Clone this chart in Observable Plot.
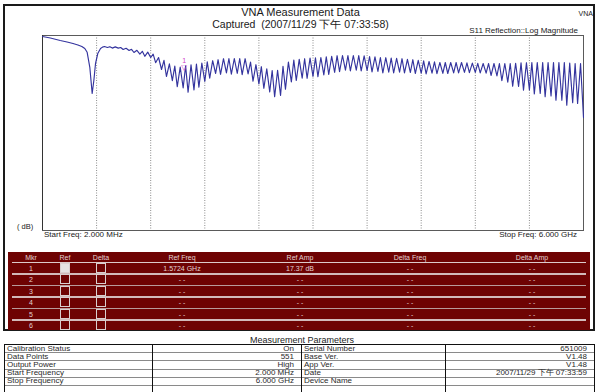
<!DOCTYPE html>
<html><head><meta charset="utf-8">
<script src="https://cdn.jsdelivr.net/npm/d3@7"></script>
<script src="https://cdn.jsdelivr.net/npm/@observablehq/plot@0.6"></script>
<style>
html,body{margin:0;padding:0;background:#fff;}
#page{position:relative;width:601px;height:392px;overflow:hidden;background:#fff;font-family:"Liberation Sans",Arial,sans-serif;color:#1a1a1a;}
.t{position:absolute;white-space:nowrap;}
.c{transform:translateX(-50%);}
.cell{position:absolute;white-space:nowrap;font-size:7px;line-height:7px;color:#e2d2d2;}
.box{position:absolute;width:8px;height:8px;border:1.5px solid #d9cfcf;box-sizing:content-box;}
.pr{position:absolute;font-size:8px;line-height:8px;color:#2a2a2a;white-space:nowrap;}
.hl{position:absolute;height:1px;background:#8a8a8a;}
.vl{position:absolute;width:1px;background:#111;}
</style></head>
<body><div id="page"></div>
<script>
// ---- sweep definition ----
const startMHz = 2, stopMHz = 6000, nPoints = 551;
// sweep point index (0..550) and return loss (dB)
const sweepPt = [
 0,8,18,25,31,36,40,43,45.4,48.1,50.5,52.2,53.9,56.2,59,61,
 63,66, 68.5,71, 74,77, 79.5,82, 85,88, 90.5,93, 96,99, 101.5,104, 107,110, 112.5,115,
 118,121, 123.5,126, 129,132, 134.5,137, 140,143, 145.5,148, 151,154, 156.5,159, 162,165, 167.5,170,
 173,176, 178.5,181, 184,187, 189.5,192, 195,198, 200.5,203, 206,209, 211.5,214, 217,220, 222.5,225,
 228,231, 233.5,236, 239,242, 244.5,247, 250,253, 255.5,258, 261,264, 266.5,269, 272,275, 277.5,280,
 283,286, 288.5,291, 294,297, 299.5,302, 305,308, 310.5,313, 316,319, 321.5,324, 327,330, 332.5,335,
 338,341, 343.5,346, 349,352, 354.5,357, 360,363, 365.5,368, 371,374, 376.5,379, 382,385, 387.5,390,
 393,396, 398.5,401, 404,407, 409.5,412, 415,418, 420.5,423, 426,429, 431.5,434, 437,440, 442.5,445,
 448,451, 453.5,456, 459,462, 464.5,467, 470,473, 475.5,478, 481,484, 486.5,489, 492,495, 497.5,500,
 503,506, 508.5,511, 514,517, 519.5,522, 525,528, 530.5,533, 536,539, 541.5,544, 547,550
];
const s11dB = [
 0.5,1.25,2.5,3.25,4,4.75,5.5,6.5,8.4,15.9,29,22.5,14,9,6.5,5.8,
 5.5,6.0, 5.6,6.3, 5.7,6.3, 6.0,7.0, 6.4,7.5, 6.9,8.5, 7.4,9.3, 7.9,10.4, 8.3,11.0, 9.3,13.6,
 11.0,17.0, 12.4,20.5, 14.2,22.6, 15.3,25.6, 15.8,26.2, 15.2,28.4, 14.7,27.2, 14.3,25.8, 13.8,23.0, 13.2,21.3,
 12.6,19.0, 12.1,19.4, 11.6,18.7, 11.5,19.3, 11.5,18.9, 11.5,19.6, 11.6,19.2, 13.3,22.8, 14.6,24.2, 15.6,26.4,
 16.7,28.2, 17.5,30.6, 17.4,30.0, 15.4,26.9, 13.3,23.2, 12.3,22.5, 11.9,21.3, 11.6,21.4, 11.3,20.4, 11.2,20.6,
 11.0,19.7, 10.7,19.5, 10.4,18.4, 10.1,18.1, 10.0,17.3, 10.0,17.7, 10.0,17.3, 10.0,17.7, 10.2,17.5, 10.5,18.2,
 10.7,18.0, 11.0,18.7, 11.1,18.3, 11.3,18.7, 11.4,18.3, 11.6,18.7, 11.9,18.5, 12.1,19.0, 12.4,18.8, 12.7,19.2,
 13.0,18.8, 13.2,19.1, 13.5,18.9, 13.5,19.0, 13.5,18.7, 13.5,18.7, 13.5,18.4, 13.7,18.6, 13.8,18.4, 13.9,18.7,
 14.0,18.8, 14.0,20.0, 14.0,20.2, 14.0,22.6, 14.0,23.3, 14.0,25.4, 13.9,25.5, 13.7,27.3, 13.6,27.2, 13.5,29.2,
 13.5,29.0, 13.5,30.6, 13.5,30.2, 13.5,32.3, 13.5,32.4, 13.5,34.8, 13.8,33.6, 14.0,34.0, 14.0,41.0
];
const gridMHz = [601.8,1201.6,1801.4,2401.2,3001,3600.8,4200.6,4800.4,5400.2];
const markerFreqMHz = [1572.4];
const markerAmpDb = [17.37];
const markerLabel = ["1"];

// marker table
const mkrIds = ["1","2","3","4","5","6"];
const refChecked = [true,false,false,false,false,false];
const refFreq = ["1.5724 GHz","- -","- -","- -","- -","- -"];
const refAmp = ["17.37 dB","- -","- -","- -","- -","- -"];
const deltaFreq = ["- -","- -","- -","- -","- -","- -"];
const deltaAmp = ["- -","- -","- -","- -","- -","- -"];
const mkrHeaders = ["Mkr","Ref","Delta","Ref Freq","Ref Amp","Delta Freq","Delta Amp"];

// measurement parameters
const paramLabelsL = ["Calibration Status","Data Points","Output Power","Start Frequency","Stop Frequency",""];
const paramValuesL = ["On","551","High","2.000 MHz","6.000 GHz",""];
const paramLabelsR = ["Serial Number","Base Ver.","App Ver.","Date","Device Name",""];
const paramValuesR = ["651009","V1.48","V1.48","2007/11/29 下午 07:33:59","",""];

const stepMHz = (stopMHz - startMHz) / (nPoints - 1);
const trace = sweepPt.map((p, i) => ({f: startMHz + p * stepMHz, db: s11dB[i]}));
const markers = markerFreqMHz.map((f, i) => ({f, db: markerAmpDb[i], label: markerLabel[i]}));

const page = document.getElementById("page");
function add(html){ page.insertAdjacentHTML("beforeend", html); }

// outer frame
add(`<div style="position:absolute;left:3px;top:4px;width:588px;height:323px;border:2px solid #1a1a1a;"></div>`);

const chart = Plot.plot({
  width: 601, height: 245,
  marginLeft: 42, marginRight: 18, marginTop: 35, marginBottom: 15,
  style: {background: "transparent", fontFamily: "Liberation Sans, Arial, sans-serif"},
  x: {domain: [startMHz, stopMHz], axis: null},
  y: {domain: [0, 97.5], reverse: true, axis: null},
  marks: [
    Plot.ruleX(gridMHz, {stroke: "#8c8c8c", strokeDasharray: "1,1.5", strokeWidth: 1}),
    Plot.frame({stroke: "#5a5a5a"}),
    Plot.ruleX([startMHz], {stroke: "#333"}),
    Plot.line(trace, {x: "f", y: "db", stroke: "#34349e", strokeWidth: 1.15}),
    Plot.text(markers, {x: "f", y: "db", text: () => "▽", dy: -3, fill: "#d040c8", fontSize: 7.5, fontFamily: "DejaVu Sans"}),
    Plot.text(markers, {x: "f", y: "db", text: "label", dy: -9.5, fill: "#d040c8", fontSize: 7})
  ]
});
chart.style.position = "absolute";
chart.style.left = "0px";
chart.style.top = "0px";
page.appendChild(chart);

// titles
add(`<div class="t" style="left:0;width:601px;text-align:center;top:7px;font-size:11px;line-height:11px;">VNA Measurement Data</div>`);
add(`<div class="t" style="left:0;width:601px;text-align:center;top:19px;font-size:10.5px;line-height:10.5px;">Captured&nbsp; (2007/11/29 下午 07:33:58)</div>`);
add(`<div class="t" style="right:8px;top:9.5px;font-size:7px;line-height:7px;">VNA</div>`);
add(`<div class="t" style="right:23px;top:27px;font-size:8px;line-height:8px;">S11 Reflection::Log Magnitude</div>`);
add(`<div class="t" style="left:17px;top:223px;font-size:7.5px;line-height:7.5px;">( dB)</div>`);
add(`<div class="t" style="left:44px;top:231px;font-size:8px;line-height:8px;">Start Freq: 2.000 MHz</div>`);
add(`<div class="t" style="right:24px;top:231px;font-size:8px;line-height:8px;">Stop Freq: 6.000 GHz</div>`);

// marker table
add(`<div style="position:absolute;left:8px;top:252px;width:582px;height:78px;background:#6e0303;"></div>`);
const colX = [31, 65, 101, 182, 300, 410, 532];
const headerY = 257;
mkrHeaders.forEach((h, j) => add(`<div class="cell c" style="left:${colX[j]}px;top:${headerY-3.5}px;">${h}</div>`));
add(`<div style="position:absolute;left:12px;top:261.5px;width:574px;height:1.5px;background:#dccaca;"></div>`);
const rowY = [268, 279.5, 291, 302.5, 314, 325.5];
mkrIds.forEach((id, i) => {
  const y = rowY[i];
  add(`<div class="cell c" style="left:${colX[0]}px;top:${y-3.5}px;">${id}</div>`);
  add(`<div class="box" style="left:${colX[1]-5.5}px;top:${y-5.5}px;background:${refChecked[i] ? "#e6e2e2" : "transparent"};"></div>`);
  add(`<div class="box" style="left:${colX[2]-5.5}px;top:${y-5.5}px;"></div>`);
  add(`<div class="cell c" style="left:${colX[3]}px;top:${y-3.5}px;">${refFreq[i]}</div>`);
  add(`<div class="cell c" style="left:${colX[4]}px;top:${y-3.5}px;">${refAmp[i]}</div>`);
  add(`<div class="cell c" style="left:${colX[5]}px;top:${y-3.5}px;">${deltaFreq[i]}</div>`);
  add(`<div class="cell c" style="left:${colX[6]}px;top:${y-3.5}px;">${deltaAmp[i]}</div>`);
  if (i < 5) add(`<div style="position:absolute;left:12px;top:${y+5.2}px;width:574px;height:1.5px;background:${i % 2 ? "#b89c9c" : "#d2baba"};"></div>`);
});

// measurement parameters
add(`<div class="t" style="left:302px;top:335.5px;font-size:9px;line-height:9px;transform:translateX(-50%);color:#222;">Measurement Parameters</div>`);
function paramTable(x0, xs, x1, labels, values) {
  const top = 344, rh = 8.2;
  const n = labels.length;
  add(`<div style="position:absolute;left:${x0}px;top:${top}px;width:${x1-x0}px;height:1px;background:#111;"></div>`);
  for (let i = 1; i < n; i++) add(`<div class="hl" style="left:${x0}px;top:${top + i*rh}px;width:${x1-x0}px;"></div>`);
  add(`<div class="vl" style="left:${x0}px;top:${top}px;height:${n*rh+2}px;"></div>`);
  add(`<div class="vl" style="left:${xs}px;top:${top}px;height:${n*rh+2}px;"></div>`);
  add(`<div class="vl" style="left:${x1}px;top:${top}px;height:${n*rh+2}px;"></div>`);
  labels.forEach((l, i) => {
    const cy = top + i*rh + rh/2 + 0.5;
    add(`<div class="pr" style="left:${x0+3}px;top:${cy-4}px;">${l}</div>`);
    add(`<div class="pr" style="right:${601-(x1-7)}px;top:${cy-4}px;">${values[i]}</div>`);
  });
}
paramTable(4, 152, 301, paramLabelsL, paramValuesL);
paramTable(301, 445, 594, paramLabelsR, paramValuesR);
</script></body></html>
